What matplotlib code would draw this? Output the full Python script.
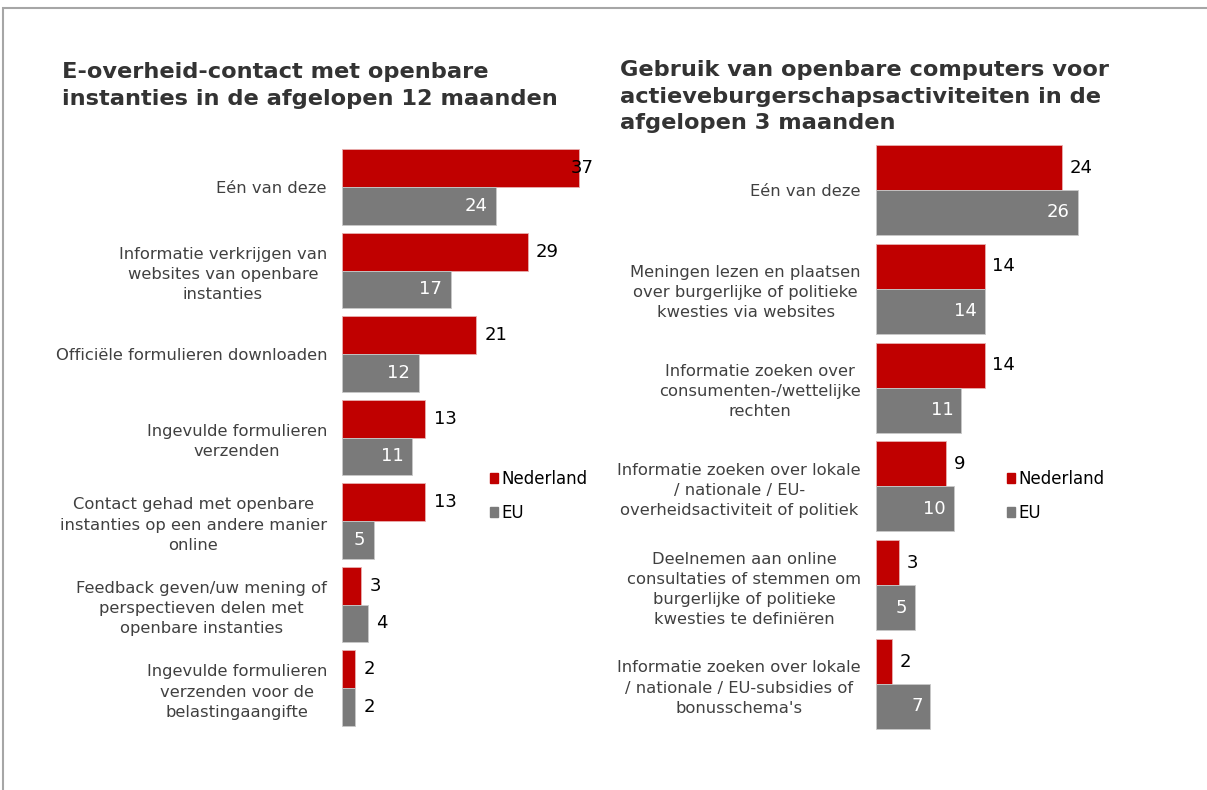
import matplotlib
matplotlib.use("Agg")
import matplotlib.pyplot as plt
from matplotlib.patches import Patch, Rectangle
import numpy as np

plt.rcParams['font.family'] = ['DejaVu Sans']

# ---------------- data ----------------
left_title = "E-overheid-contact met openbare\ninstanties in de afgelopen 12 maanden"
left_categories = [
    "Eén van deze",
    "Informatie verkrijgen van\nwebsites van openbare\ninstanties",
    "Officiële formulieren downloaden",
    "Ingevulde formulieren\nverzenden",
    "Contact gehad met openbare\ninstanties op een andere manier\nonline",
    "Feedback geven/uw mening of\nperspectieven delen met\nopenbare instanties",
    "Ingevulde formulieren\nverzenden voor de\nbelastingaangifte",
]
left_nl = [37, 29, 21, 13, 13, 3, 2]
left_eu = [24, 17, 12, 11, 5, 4, 2]

right_title = "Gebruik van openbare computers voor\nactieveburgerschapsactiviteiten in de\nafgelopen 3 maanden"
right_categories = [
    "Eén van deze",
    "Meningen lezen en plaatsen\nover burgerlijke of politieke\nkwesties via websites",
    "Informatie zoeken over\nconsumenten-/wettelijke\nrechten",
    "Informatie zoeken over lokale\n/ nationale / EU-\noverheidsactiviteit of politiek",
    "Deelnemen aan online\nconsultaties of stemmen om\nburgerlijke of politieke\nkwesties te definiëren",
    "Informatie zoeken over lokale\n/ nationale / EU-subsidies of\nbonusschema's",
]
right_nl = [24, 14, 14, 9, 3, 2]
right_eu = [26, 14, 11, 10, 5, 7]

series_names = ["Nederland", "EU"]

# ---------------- style ----------------
RED = "#C00000"
GRAY = "#7A7A7A"
TXT = "#404040"
W, H = 1207, 790

fig = plt.figure(figsize=(W / 100, H / 100), dpi=100)

# chart border (top and left edges visible)
fig.add_artist(Rectangle((3 / W, -0.05), 1.1, 1 - 8 / H + 0.05, transform=fig.transFigure,
                         fill=False, edgecolor="#A6A6A6", linewidth=1.5))


def px_axes(x0, x1, y0, y1):
    return fig.add_axes([x0 / W, 1 - y1 / H, (x1 - x0) / W, (y1 - y0) / H])


def draw_panel(ax, cats, nl, eu, xmax, clamp, inside_min):
    n = len(cats)
    y = np.arange(n)
    h = 0.455
    ax.barh(y - h / 2, nl, height=h, color=RED, edgecolor="#E8B0B0", linewidth=0.6)
    ax.barh(y + h / 2, eu, height=h, color=GRAY, edgecolor="#C8C8C8", linewidth=0.6)
    ax.set_xlim(0, xmax)
    ax.set_ylim(n - 0.5, -0.5)
    ax.set_yticks(y)
    ax.set_yticklabels(cats, fontsize=11.8, color=TXT)
    for lab in ax.get_yticklabels():
        lab.set_multialignment("center")
        lab.set_linespacing(1.42)
    ax.tick_params(axis="y", length=0, pad=10.8)
    ax.set_xticks([])
    for s in ax.spines.values():
        s.set_visible(False)
    pad = xmax * 0.033
    for i, v in enumerate(nl):
        ax.text(min(v + pad, clamp), i - h / 2, str(v), va="center", ha="left",
                fontsize=13, color="black")
    for i, v in enumerate(eu):
        if v >= inside_min:
            ax.text(v - pad, i + h / 2, str(v), va="center", ha="right",
                    fontsize=13, color="white")
        else:
            ax.text(v + pad, i + h / 2, str(v), va="center", ha="left",
                    fontsize=13, color="black")


axL = px_axes(342, 342 + 6.4 * 40, 145.25, 729.75)
draw_panel(axL, left_categories, left_nl, left_eu, 40, 35.8, 5)

axR = px_axes(876, 876 + 7.75 * 30, 140.6, 733.4)
draw_panel(axR, right_categories, right_nl, right_eu, 30, 40, 5)

fig.text(62 / W, 1 - 62 / H, left_title, fontsize=16.2, fontweight="bold", color="#333333",
         va="top", ha="left", linespacing=1.42)
fig.text(620 / W, 1 - 60 / H, right_title, fontsize=16.2, fontweight="bold", color="#333333",
         va="top", ha="left", linespacing=1.42)

handles = [Patch(color=RED), Patch(color=GRAY)]
for x0 in (490, 1007):
    fig.legend(handles, series_names, loc="upper left",
               bbox_to_anchor=(x0 / W, 1 - 470 / H), frameon=False, fontsize=12,
               handlelength=0.5, handleheight=0.5, handletextpad=0.2,
               labelspacing=0.95, borderaxespad=0, borderpad=0, labelcolor="black")

fig.savefig("out.png", dpi=100)
